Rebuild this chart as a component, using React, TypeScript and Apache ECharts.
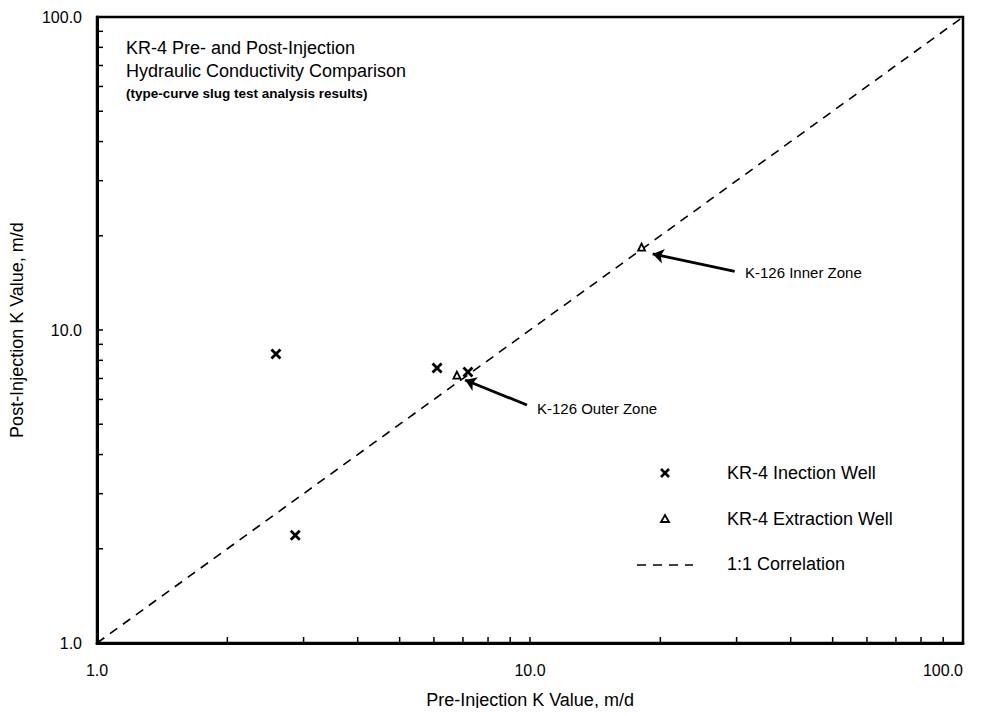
import React, { useEffect, useRef } from "react";
import * as echarts from "echarts";

const injectionWell: [number, number][] = [
  [2.59, 8.38],
  [6.1, 7.56],
  [7.19, 7.34],
  [2.87, 2.21],
];
const extractionWell: [number, number][] = [
  [6.78, 7.18],
  [18.1, 18.4],
];
const correlation: [number, number][] = [
  [1, 1],
  [100, 100],
];
const arrows = [
  { name: "K-126 Inner Zone", coords: [[29.7, 15.4], [19.2, 17.5]] },
  { name: "K-126 Outer Zone", coords: [[9.84, 5.76], [7.08, 6.92]] },
];
const minorTickValues = [2, 3, 4, 5, 6, 7, 8, 9, 10, 20, 30, 40, 50, 60, 70, 80, 90];
const titleLines = [
  "KR-4 Pre- and Post-Injection",
  "Hydraulic Conductivity Comparison",
];
const subtitle = "(type-curve slug test analysis results)";
const legendNames = ["KR-4 Inection Well", "KR-4 Extraction Well", "1:1 Correlation"];

const FONT = "'Liberation Sans', Arial, Helvetica, sans-serif";

export default function App() {
  const ref = useRef<HTMLDivElement>(null);
  useEffect(() => {
    if (!ref.current) return;
    const chart = echarts.init(ref.current, undefined, { renderer: "svg" });
    const tickData: [number, number][] = [];
    minorTickValues.forEach((v) => {
      tickData.push([v, 0]);
      tickData.push([v, 1]);
    });
    const axisCommon = {
      type: "log" as const,
      logBase: 10,
      min: 1,
      max: 100,
      splitLine: { show: false },
      axisTick: { show: false },
      minorTick: { show: false },
      axisLine: { show: true, lineStyle: { color: "#000", width: 3 } },
      axisLabel: {
        color: "#000",
        fontFamily: FONT,
        fontSize: 16,
        formatter: (v: number) => v.toFixed(1),
      },
      nameTextStyle: { color: "#000", fontFamily: FONT, fontSize: 18 },
      nameLocation: "middle" as const,
    };
    chart.setOption({
      animation: false,
      backgroundColor: "#fff",
      grid: {
        left: 97,
        right: 30,
        top: 17,
        bottom: 73,
        show: true,
        borderColor: "#000",
        borderWidth: 2.5,
        backgroundColor: "transparent",
      },
      xAxis: {
        ...axisCommon,
        name: "Pre-Injection K Value, m/d",
        nameGap: 48,
        axisLabel: { ...axisCommon.axisLabel, margin: 19, alignMaxLabel: "right" },
      },
      yAxis: {
        ...axisCommon,
        name: "Post-Injection K Value, m/d",
        nameGap: 71,
        axisLabel: { ...axisCommon.axisLabel, margin: 15 },
      },
      series: [
        {
          name: legendNames[2],
          type: "line",
          data: correlation,
          symbol: "none",
          lineStyle: { color: "#000", width: 1.6, type: [9, 7] },
          silent: true,
          z: 2,
        },
        {
          name: legendNames[0],
          type: "scatter",
          data: injectionWell,
          symbol: "path://M0,0L10,10M10,0L0,10",
          symbolSize: 9,
          itemStyle: { color: "transparent", borderColor: "#000", borderWidth: 2.8, opacity: 1 },
          z: 4,
        },
        {
          name: legendNames[1],
          type: "scatter",
          data: extractionWell,
          symbol: "triangle",
          symbolSize: 7,
          itemStyle: { color: "#fff", borderColor: "#000", borderWidth: 1.8, opacity: 1 },
          z: 4,
        },
        {
          type: "lines",
          coordinateSystem: "cartesian2d",
          data: arrows.map((a) => ({ name: a.name, coords: a.coords })),
          symbol: ["none", "arrow"],
          symbolSize: 11,
          lineStyle: { color: "#000", width: 2.8, opacity: 1, curveness: 0 },
          z: 3,
        },
        {
          type: "custom",
          data: tickData,
          silent: true,
          z: 5,
          renderItem: (params: any, api: any) => {
            const v = api.value(0);
            const axis = api.value(1);
            if (axis === 0) {
              const p = api.coord([v, 1]);
              return {
                type: "line",
                shape: { x1: p[0], y1: p[1], x2: p[0], y2: p[1] - 6 },
                style: { stroke: "#000", lineWidth: 1.5 },
              };
            }
            const p = api.coord([1, v]);
            return {
              type: "line",
              shape: { x1: p[0], y1: p[1], x2: p[0] + 6, y2: p[1] },
              style: { stroke: "#000", lineWidth: 1.5 },
            };
          },
        },
      ],
      graphic: [
        {
          type: "text",
          left: 126,
          top: 39,
          style: { text: titleLines[0], font: `18px ${FONT}`, fill: "#000" },
        },
        {
          type: "text",
          left: 126,
          top: 62,
          style: { text: titleLines[1], font: `18px ${FONT}`, fill: "#000" },
        },
        {
          type: "text",
          left: 126,
          top: 86,
          style: { text: subtitle, font: `bold 13.5px ${FONT}`, fill: "#000" },
        },
        {
          type: "text",
          left: 745,
          top: 265,
          style: { text: arrows[0].name, font: `15px ${FONT}`, fill: "#000" },
        },
        {
          type: "text",
          left: 537,
          top: 401,
          style: { text: arrows[1].name, font: `15px ${FONT}`, fill: "#000" },
        },
        // legend
        {
          type: "line",
          shape: { x1: 661, y1: 469, x2: 669, y2: 477 },
          style: { stroke: "#000", lineWidth: 2.5 },
        },
        {
          type: "line",
          shape: { x1: 669, y1: 469, x2: 661, y2: 477 },
          style: { stroke: "#000", lineWidth: 2.5 },
        },
        {
          type: "polygon",
          shape: { points: [[665, 515], [669, 522], [661, 522]] },
          style: { fill: "#fff", stroke: "#000", lineWidth: 1.8 },
        },
        {
          type: "line",
          shape: { x1: 637, y1: 565, x2: 693, y2: 565 },
          style: { stroke: "#000", lineWidth: 1.6, lineDash: [9, 7] },
        },
        {
          type: "text",
          left: 727,
          top: 464,
          style: { text: legendNames[0], font: `18px ${FONT}`, fill: "#000" },
        },
        {
          type: "text",
          left: 727,
          top: 510,
          style: { text: legendNames[1], font: `18px ${FONT}`, fill: "#000" },
        },
        {
          type: "text",
          left: 727,
          top: 555,
          style: { text: legendNames[2], font: `18px ${FONT}`, fill: "#000" },
        },
      ],
    });
    return () => chart.dispose();
  }, []);
  return <div ref={ref} style={{ width: 993, height: 716, margin: -8 }} />;
}
